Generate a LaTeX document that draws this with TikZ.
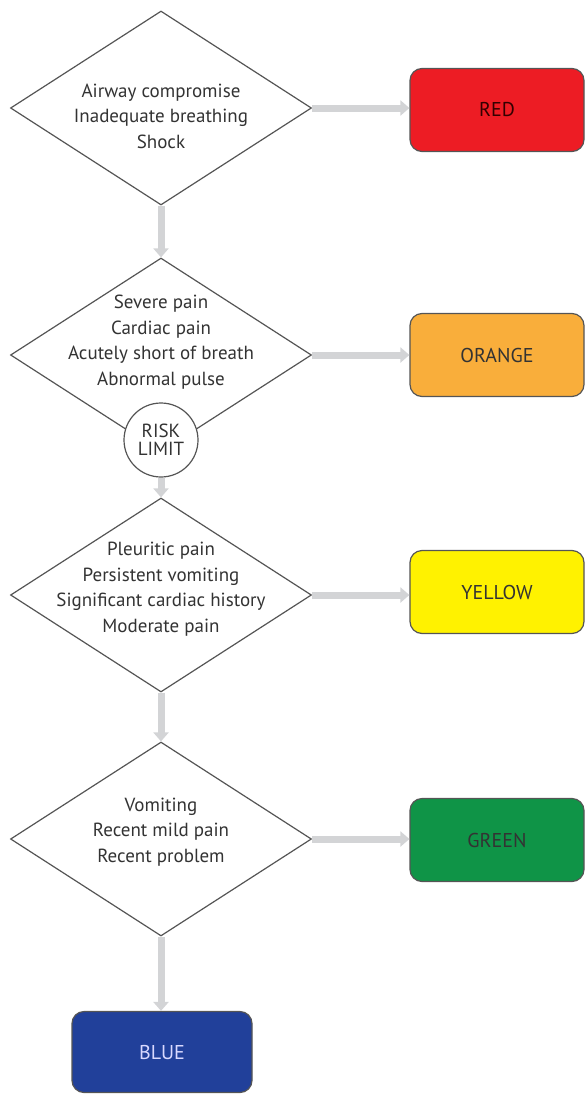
\documentclass[tikz,border=0pt]{standalone}
\usepackage{fontspec}
\setmainfont{PT Sans}
\usetikzlibrary{shapes.geometric,arrows.meta}
\definecolor{txtgray}{HTML}{333333}
\definecolor{linegray}{HTML}{555555}
\definecolor{arrowgray}{HTML}{D3D4D6}
\definecolor{cred}{HTML}{ED1C24}
\definecolor{corange}{HTML}{F9AE3B}
\definecolor{cyellow}{HTML}{FFF200}
\definecolor{cgreen}{HTML}{0F9447}
\definecolor{cblue}{HTML}{21409A}
\tikzset{
  dia/.style={shape=diamond, draw=linegray, line width=1.2pt, fill=white, inner sep=0pt,
    minimum width=301pt, minimum height=194pt},
  txt/.style={align=center, text=txtgray, font=\fontsize{19}{25.5}\selectfont, inner sep=0pt},
  box/.style={draw=linegray, line width=1.2pt, rounded corners=12pt, minimum width=174pt,
    minimum height=83pt, font=\fontsize{20}{22}\selectfont, inner sep=0pt},
  arr/.style={draw=arrowgray, line width=7pt, -{Triangle[width=15pt,length=9pt]}},
  risk/.style={circle, draw=linegray, line width=1.2pt, fill=white, minimum size=74pt,
    inner sep=0pt, align=center, text=txtgray, font=\fontsize{19}{18}\selectfont}
}
\begin{document}
\begin{tikzpicture}[x=1pt,y=-1pt]
\useasboundingbox (0,0) rectangle (584,1095);
% diamonds
\node[dia] (d1) at (161,108) {};
\node[dia] (d2) at (161,355) {};
\node[dia] (d3) at (161,595) {};
\node[dia] (d4) at (161,839) {};
% texts
\node[txt] (t1) at (161,116) {Airway compromise\\Inadequate breathing\\Shock};
\node[txt] (t2) at (161,342) {Severe pain\\Cardiac pain\\Acutely short of breath\\Abnormal pulse};
\node[txt] (t3) at (161,589) {Pleuritic pain\\Persistent vomiting\\Significant cardiac history\\Moderate pain};
\node[txt] (t4) at (161,832) {Vomiting\\Recent mild pain\\Recent problem};
% risk limit
\node[risk] (rl) at (161,440) {RISK\\LIMIT};
% boxes
\node[box, fill=cred, text=black!80!red] (red) at (497,110) {RED};
\node[box, fill=corange, text=txtgray] (orange) at (497,355) {ORANGE};
\node[box, fill=cyellow, text=txtgray] (yellow) at (497,592) {YELLOW};
\node[box, fill=cgreen, text=black!80] (green) at (497,840) {GREEN};
\node[box, fill=cblue, text=white!85!blue, minimum width=180pt, minimum height=81pt] (blue) at (162,1052) {BLUE};
% arrows
\draw[arr] (d1.east) -- (d1.east -| red.west);
\draw[arr] (d2.east) -- (d2.east -| orange.west);
\draw[arr] (d3.east) -- (d3.east -| yellow.west);
\draw[arr] (d4.east) -- (d4.east -| green.west);
\draw[arr] (d1.south) -- (d2.north);
\draw[arr] (rl.south) -- (d3.north);
\draw[arr] (d3.south) -- (d4.north);
\draw[arr] (d4.south) -- (d4.south |- blue.north);
\end{tikzpicture}
\end{document}
